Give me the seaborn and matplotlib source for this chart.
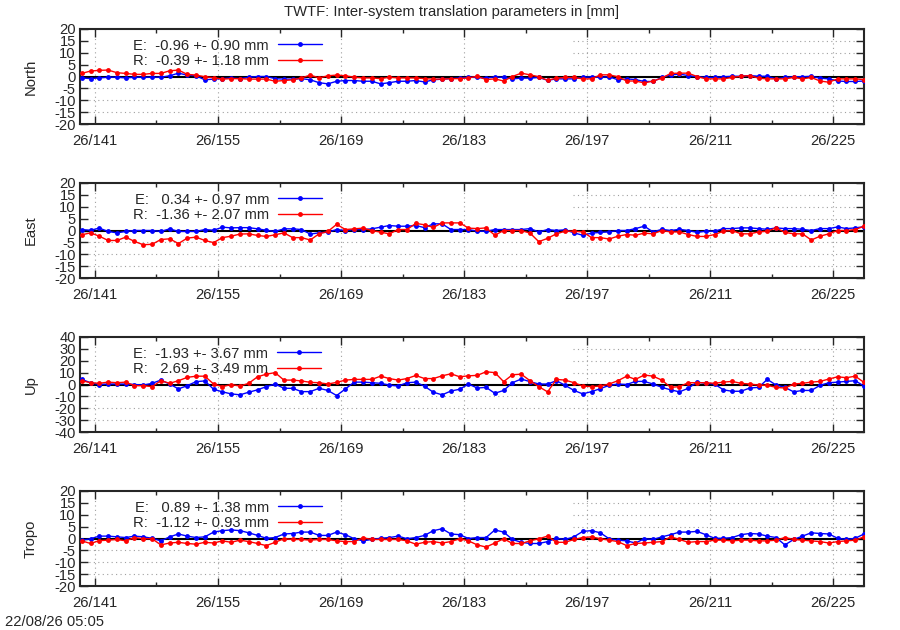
import numpy as np
import matplotlib
matplotlib.use('Agg')
import matplotlib.pyplot as plt
from matplotlib.ticker import FixedLocator, FuncFormatter
import seaborn as sns

# daily epochs, day of year 2026
first_doy = 139.5
n_days = 90
days = first_doy + np.arange(n_days)

major_doy = [141, 155, 169, 183, 197, 211, 225]
minor_doy = [148, 162, 176, 190, 204, 218]

title = 'TWTF: Inter-system translation parameters in [mm]'
stamp = '22/08/26 05:05'

north_e = [-0.6, -0.9, -0.6, -0.3, -0.3, -0.6, -0.3, -0.3, -0.3, -0.3, 0.3, 1.4, 0.6, 0.3, -1.4,
           -1.1, -0.9, -0.6, -0.9, -0.3, 0.0, 0.0, -0.9, -1.1, -1.1, -0.9, -1.4, -2.6, -3.1, -2.0,
           -1.7, -1.7, -2.0, -2.0, -3.1, -2.6, -2.0, -2.0, -1.7, -2.3, -1.4, -1.1, -0.9, -0.6, -0.3,
           -0.4, -0.7, -0.1, -0.4, -1.0, -0.7, -0.7, -0.4, -1.6, -1.0, -1.0, -1.0, -0.4, -0.1, -0.4,
           -0.1, -1.4, -1.0, -1.3, -2.1, -2.1, -0.4, 0.7, 1.0, 0.4, -0.1, -0.4, -0.4, -0.1, 0.1,
           0.1, 0.4, 0.1, 0.1, -1.0, -0.4, -0.1, -0.1, 0.1, -0.7, -1.0, -1.9, -2.1, -2.1, -1.9]
north_r = [1.3, 2.3, 2.6, 2.7, 1.6, 1.3, 0.9, 0.9, 1.3, 1.3, 2.4, 2.7, 0.9, 0.6, -0.1,
           -0.5, -1.1, -0.9, -0.9, -1.1, -1.1, -1.1, -2.0, -1.7, -1.4, -0.6, 0.6, -0.6, 0.3, 0.6,
           0.3, -0.3, -0.6, -0.6, -0.9, -0.3, -0.6, -0.6, -0.6, -0.9, -1.1, -1.1, -0.9, -0.9, -0.6,
           0.1, -1.3, -1.0, -1.9, 0.0, 1.4, 0.7, -0.1, -1.6, -0.7, -0.4, -0.4, -1.0, -1.0, 0.7,
           0.7, -0.1, -1.9, -1.9, -2.7, -1.9, -0.7, 1.3, 1.4, 1.4, 0.0, -1.0, -1.0, -1.0, -0.4,
           0.1, 0.4, -0.7, -1.0, -1.0, -1.0, -0.4, -1.0, -0.4, -1.9, -2.4, -1.0, -1.0, -1.0, -1.3]

east_e = [0.4, 0.1, 1.0, -0.4, -1.0, -0.4, 0.0, 0.0, 0.0, -0.4, 0.7, -0.4, -0.4, -0.4, 0.4,
          0.1, 1.4, 1.1, 1.2, 1.2, 0.7, 0.1, -0.4, 0.7, 0.7, 0.4, -1.5, -1.0, -0.7, 0.4,
          0.0, 0.4, 0.4, 0.7, 1.4, 2.1, 1.8, 1.8, 2.1, 1.2, 2.8, 2.8, 0.4, 0.4, 0.4,
          -0.3, -0.3, 0.4, 0.4, 0.4, 0.4, 0.8, -0.6, 0.4, 0.0, 0.3, -1.0, -2.0, -1.1, -0.8,
          -0.6, 0.0, 0.0, 0.8, 1.8, -0.6, 0.5, 0.0, 0.5, 0.0, -0.8, -0.3, -0.3, 0.8, 0.8,
          1.1, 1.1, 0.8, 0.5, 1.1, 0.8, 0.8, 0.5, 0.0, 0.8, 0.8, 1.5, 0.8, 1.1, 1.6]
east_r = [-1.8, -1.0, -2.4, -4.2, -4.2, -2.8, -4.6, -6.0, -5.8, -3.8, -3.5, -5.5, -3.2, -2.8, -4.2,
          -5.1, -3.0, -2.4, -1.5, -1.4, -2.1, -2.5, -1.8, -1.0, -3.0, -3.0, -4.0, -1.4, -0.4, 2.6,
          0.4, 0.7, 1.0, 0.0, -0.7, -1.4, 0.4, 0.4, 3.0, 2.4, 1.3, 3.2, 3.2, 3.2, 1.0,
          0.8, 1.1, -2.0, 0.0, 0.0, 0.0, -1.1, -4.7, -3.3, -1.4, -0.3, -0.3, -0.6, -3.0, -3.0,
          -3.6, -2.4, -1.7, -2.0, -1.1, -1.4, 0.0, -0.6, -0.6, -1.7, -2.5, -2.5, -1.7, -0.3, 0.0,
          -1.4, -1.4, -0.6, -0.3, 1.1, -0.8, -1.4, -1.4, -4.0, -2.4, -1.4, 0.0, 0.0, 0.4, 1.8]

up_e = [4.3, 1.5, 0.0, 0.4, 0.4, 0.4, 0.0, -0.5, 1.0, 3.7, 0.4, -3.7, -1.0, 2.4, 3.0,
        -4.0, -6.2, -7.9, -8.7, -6.5, -4.5, -1.8, 0.4, -3.2, -3.2, -6.0, -6.0, -3.2, -5.0, -9.3,
        -3.7, 2.0, 2.0, 1.5, 1.0, -0.5, -1.3, 1.5, 2.0, -1.5, -6.5, -8.7, -5.5, -4.0, 0.4,
        -3.0, -2.4, -7.4, -5.0, 1.5, 4.6, 2.4, 0.4, 0.4, 3.2, -0.7, -5.0, -7.9, -6.0, -3.5,
        -0.7, 0.4, 0.0, 2.6, 2.6, 0.4, -2.4, -4.5, -6.2, -3.2, 2.0, 1.0, 0.4, -4.5, -5.7,
        -5.7, -3.0, -2.4, 4.3, -0.5, -2.4, -6.2, -5.0, -5.0, -0.7, 1.5, 2.0, 2.6, 3.2, -1.3]
up_r = [3.2, 1.5, 1.0, 2.0, 1.5, 2.0, -1.0, -1.0, -1.8, 3.2, 1.0, 3.2, 6.0, 7.0, 7.0,
        0.4, -1.8, 0.0, -1.3, 1.0, 6.5, 8.7, 10.0, 3.7, 3.7, 3.0, 1.8, 1.5, 0.4, 1.8,
        3.7, 4.3, 4.3, 4.3, 7.0, 5.0, 3.7, 5.0, 7.6, 5.0, 5.0, 7.3, 9.0, 6.5, 7.3,
        7.7, 10.7, 10.0, 2.4, 8.2, 8.7, 3.2, -1.8, -6.2, 4.3, 3.7, 1.5, -1.3, -1.8, -1.3,
        0.4, 3.2, 7.0, 4.3, 8.0, 7.0, 3.7, -2.4, -1.8, 1.5, 1.5, 1.5, 1.0, 2.0, 2.6,
        1.0, 0.4, -0.5, -0.7, -2.4, -3.0, 0.4, 1.0, 2.0, 2.6, 4.6, 6.5, 5.7, 7.0, 1.8]

tropo_e = [-0.7, -0.1, 1.0, 1.0, 0.7, 0.4, 1.0, 0.7, 0.1, -1.0, 0.7, 1.9, 1.0, 0.4, 0.7,
           2.7, 3.3, 3.6, 3.3, 2.4, 1.3, 0.1, 0.4, 1.9, 2.1, 2.7, 2.7, 1.3, 1.3, 2.7,
           1.6, -0.1, -1.0, -0.4, 0.1, 0.4, 1.0, -0.1, 0.4, 1.3, 3.3, 4.1, 1.9, 1.6, 0.0,
           0.4, 0.4, 3.6, 2.7, -0.4, -1.6, -2.1, -2.1, -1.3, 0.1, -0.4, 0.7, 3.0, 3.3, 2.4,
           -0.1, -0.7, -1.0, -1.9, -0.1, -0.4, 0.7, 1.6, 2.7, 2.7, 3.0, 1.6, 0.1, 0.1, 0.4,
           1.6, 2.1, 1.9, 1.0, 0.4, -2.7, -0.4, 1.0, 2.4, 2.1, 1.9, 0.1, -0.4, 0.1, 1.9]
tropo_r = [-1.0, -2.1, -0.9, -0.7, -0.4, -1.0, 0.4, -0.1, -0.1, -2.7, -1.9, -1.6, -2.1, -2.4, -1.6,
           -1.9, -1.0, -1.6, -0.7, -1.3, -2.1, -3.0, -1.6, -0.1, -0.4, -0.4, -0.7, -0.4, -0.4, -1.0,
           -1.3, -1.3, 0.3, -0.4, -0.4, -0.4, -0.4, -1.0, -2.4, -1.6, -1.3, -1.9, -1.3, -0.1, -1.0,
           -2.7, -3.6, -1.9, -0.1, -2.1, -2.1, -1.0, -0.1, 1.0, -1.6, -1.6, -0.4, 0.4, 0.7, -0.1,
           -0.7, -1.3, -3.0, -2.1, -1.9, -1.6, -1.3, 0.7, -0.4, -1.6, -1.3, -1.3, -0.7, -0.7, -1.0,
           -0.7, -0.7, -1.0, -1.0, -0.7, 0.4, -0.4, -0.7, -1.0, -1.3, -1.9, -1.3, -1.0, -0.7, 0.7]

components = ['North', 'East', 'Up', 'Tropo']
series_e = [north_e, east_e, up_e, tropo_e]
series_r = [north_r, east_r, up_r, tropo_r]
mean_e = [-0.96, 0.34, -1.93, 0.89]
std_e = [0.90, 0.97, 3.67, 1.38]
mean_r = [-0.39, -1.36, 2.69, -1.12]
std_r = [1.18, 2.07, 3.49, 0.93]
y_limit = [20, 20, 40, 20]
y_step = [5, 5, 10, 5]

sns.set_style('ticks')
plt.rcParams['font.family'] = ['Liberation Sans', 'DejaVu Sans']
fs = 10.6
plt.rcParams['font.size'] = fs

fig = plt.figure(figsize=(9, 6.3), dpi=100)
W, H = 900.0, 630.0
ax_left, ax_right = 80, 864
panel_tops = [29, 183, 337, 491]
panel_h = 95
grid_kw = dict(color='#a0a0a0', lw=0.8, ls=(0, (1, 3)))

for i, comp in enumerate(components):
    top = panel_tops[i]
    ax = fig.add_axes([ax_left / W, 1 - (top + panel_h) / H,
                       (ax_right - ax_left) / W, panel_h / H])
    lim, step = y_limit[i], y_step[i]
    yt = np.arange(-lim, lim + step, step)

    # grid: horizontal lines above zero are hidden behind the key box
    for t in yt[1:-1]:
        if t < 0:
            ax.axhline(t, zorder=0, **grid_kw)
        elif t > 0:
            ax.axhline(t, xmin=(573 - ax_left) / (ax_right - ax_left), zorder=0, **grid_kw)
    for d in major_doy:
        ax.axvline(d, zorder=0, **grid_kw)
    ax.axhline(0, color='black', lw=1.5, zorder=1)

    lab_e = 'E: %6.2f +- %4.2f mm' % (mean_e[i], std_e[i])
    lab_r = 'R: %6.2f +- %4.2f mm' % (mean_r[i], std_r[i])
    sns.lineplot(x=days, y=series_e[i], color='blue', marker='o', markersize=3.5,
                 markeredgewidth=0, linewidth=1.0, label=lab_e, ax=ax, zorder=3)
    sns.lineplot(x=days, y=series_r[i], color='red', marker='o', markersize=3.5,
                 markeredgewidth=0, linewidth=1.0, label=lab_r, ax=ax, zorder=3)

    ax.set_xlim(139.3, 228.5)
    ax.set_ylim(-lim, lim)
    ax.set_yticks(yt)
    ax.yaxis.set_major_formatter(FuncFormatter(lambda v, p: '%d' % v))
    ax.xaxis.set_major_locator(FixedLocator(major_doy))
    ax.xaxis.set_minor_locator(FixedLocator(minor_doy))
    ax.xaxis.set_major_formatter(FuncFormatter(lambda v, p: '26/%d' % round(v)))
    ax.tick_params(which='both', direction='in', top=True, right=True, width=1, labelsize=fs)
    ax.tick_params(which='major', length=6)
    ax.tick_params(which='minor', length=3)
    ax.tick_params(axis='y', pad=3)
    ax.tick_params(axis='x', pad=7)
    for s in ax.spines.values():
        s.set_linewidth(1.5)
    ax.set_xlabel('')
    ax.set_ylabel(comp, fontsize=fs)
    ax.yaxis.set_label_coords(-0.054, 0.5)

    ax.legend(loc='upper left', bbox_to_anchor=((133 - ax_left) / (ax_right - ax_left), 0.90),
              frameon=False, markerfirst=False, handlelength=3.0, handletextpad=0.6,
              labelspacing=0.1, borderaxespad=0, borderpad=0, fontsize=fs)

fig.text(452 / W, 1 - 12 / H, title, ha='center', va='center', fontsize=fs)
fig.text(5 / W, 1 - 622 / H, stamp, ha='left', va='center', fontsize=fs)

fig.savefig('out.png', dpi=100)
